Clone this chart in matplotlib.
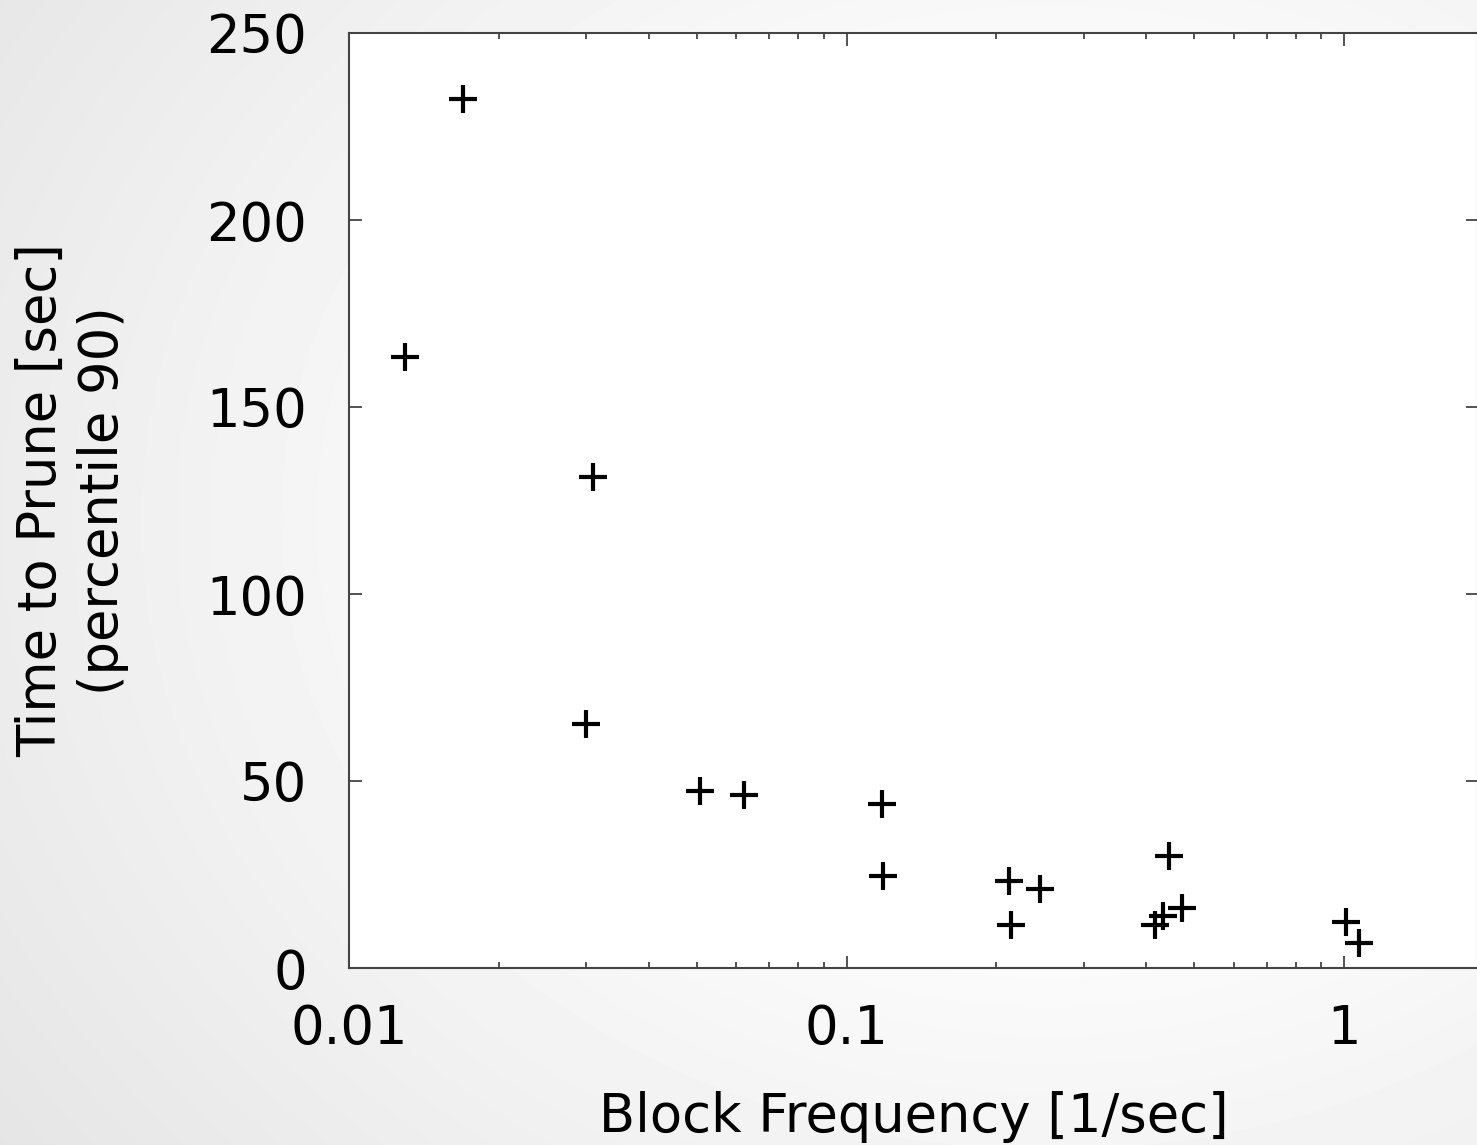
import matplotlib

matplotlib.use("Agg")
import matplotlib.pyplot as plt
import numpy as np
from matplotlib.ticker import FixedLocator, LogLocator, NullFormatter

BLOCK_FREQ = [0.01296, 0.01695, 0.0309, 0.0299, 0.0508, 0.0622, 0.1180, 0.1185,
              0.2120, 0.2140, 0.2445, 0.4448, 0.4170, 0.4330, 0.4726, 1.009, 1.072]
PRUNE_TIME = [163.4, 232.4, 131.2, 65.2, 47.4, 46.3, 43.9, 24.5,
              23.2, 11.4, 21.1, 30.0, 11.5, 13.9, 16.0, 12.3, 6.7]

X_TICKS = [0.01, 0.1, 1]
X_TICK_LABELS = ["0.01", "0.1", "1"]
Y_TICKS = [0, 50, 100, 150, 200, 250]

W, H = 1477, 1145

plt.rcParams.update({
    "font.family": "DejaVu Sans",
    "font.size": 38,
})

fig = plt.figure(figsize=(W / 100, H / 100), dpi=100)

# slide-style light grey radial background
bg = fig.add_axes([0, 0, 1, 1], zorder=-10)
yy, xx = np.mgrid[0:H, 0:W]
r = np.hypot((xx - 1050) / 1100.0, (yy - 520) / 900.0)
shade = 1.0 - 0.08 * np.clip(r - 0.35, 0, None) / 0.65
bg.imshow(shade, cmap="gray", vmin=0, vmax=1, aspect="auto")
bg.axis("off")

ax = fig.add_axes([349 / W, 1 - 968 / H, (1478 - 349) / W, (968 - 33) / H])
ax.set_facecolor("white")

ax.plot(BLOCK_FREQ, PRUNE_TIME, linestyle="none", marker="+",
        markersize=20, markeredgewidth=3.0, color="black", clip_on=False)

ax.set_xscale("log")
ax.set_xlim(0.01, 10 ** (np.log10(0.01) + (1478 - 349) / 497.5))
ax.set_ylim(0, 250)

ax.xaxis.set_major_locator(FixedLocator(X_TICKS))
ax.set_xticklabels(X_TICK_LABELS)
ax.xaxis.set_minor_locator(LogLocator(base=10, subs=np.arange(2, 10)))
ax.xaxis.set_minor_formatter(NullFormatter())
ax.set_yticks(Y_TICKS)

ax.tick_params(which="both", direction="in", top=True, right=True,
               color="#444444", width=1.3)
ax.tick_params(which="major", length=9, pad=25)
ax.tick_params(which="minor", length=4)
ax.tick_params(axis="y", pad=30)

for spine in ax.spines.values():
    spine.set_linewidth(1.5)
    spine.set_color("#444444")

ax.set_xlabel("Block Frequency [1/sec]", labelpad=26)
ax.set_ylabel("Time to Prune [sec]\n(percentile 90)", linespacing=1.25)
ax.yaxis.set_label_coords((72 - 349) / (1478 - 349), 0.5)
ax.yaxis.label.set_verticalalignment("center")

fig.savefig("out.png", dpi=100)
